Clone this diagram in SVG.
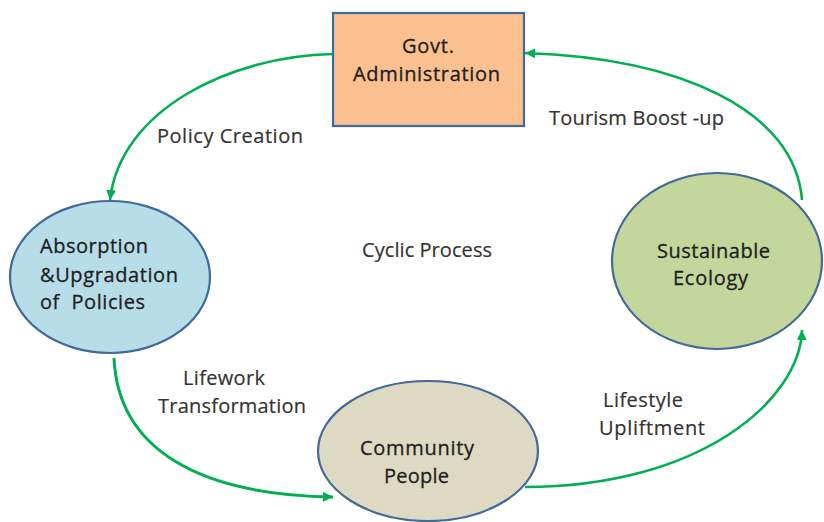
<svg xmlns="http://www.w3.org/2000/svg" width="824" height="522" viewBox="0 0 824 522">
  <defs>
    <marker id="arrowhead" markerUnits="userSpaceOnUse" markerWidth="11" markerHeight="10" refX="10" refY="5" orient="auto">
      <path d="M0,0 L10,5 L0,10 Z" fill="#00B050"/>
    </marker>
    <style>
      .node-stroke { stroke: #41699A; stroke-width: 2.2; }
      .node-text { font-family: "Open Sans", "Liberation Sans", sans-serif; font-size: 20px; fill: #1e1e1e; stroke: #1e1e1e; stroke-width: 0.3; }
      .edge-text { font-family: "Open Sans", "Liberation Sans", sans-serif; font-size: 20px; fill: #333333; stroke: #333333; stroke-width: 0.2; }
      .edge { fill: none; stroke: #00B050; stroke-width: 2.6; marker-end: url(#arrowhead); }
    </style>
  </defs>

  <rect width="824" height="522" fill="#ffffff"/>

  <!-- connectors -->
  <g id="connectors">
    <path class="edge" d="M333,54 C230,56 120,110 110,200"/>
    <path class="edge" d="M114,358 C118,450 200,495 333,497" style="stroke-width:3"/>
    <path class="edge" d="M525,487 C700,487 800,400 802,330"/>
    <path class="edge" d="M802,200 C795,110 680,58 525,53"/>
  </g>

  <!-- connector labels -->
  <g id="edge-labels">
    <text class="edge-text" x="157" y="143" textLength="146" lengthAdjust="spacing">Policy Creation</text>
    <text class="edge-text" x="549" y="125" textLength="175" lengthAdjust="spacing">Tourism Boost -up</text>
    <text class="edge-text" x="183" y="385" textLength="82" lengthAdjust="spacing">Lifework</text>
    <text class="edge-text" x="158" y="413" textLength="148" lengthAdjust="spacing">Transformation</text>
    <text class="edge-text" x="603" y="407" textLength="80" lengthAdjust="spacing">Lifestyle</text>
    <text class="edge-text" x="599" y="435" textLength="106" lengthAdjust="spacing">Upliftment</text>
  </g>

  <g id="govt-administration">
    <rect class="node-stroke" x="333" y="13" width="191" height="113" fill="#FAC090"/>
    <text class="node-text" x="402" y="53" textLength="52" lengthAdjust="spacing">Govt.</text>
    <text class="node-text" x="353" y="81" textLength="147" lengthAdjust="spacing">Administration</text>
  </g>

  <g id="absorption-upgradation">
    <ellipse class="node-stroke" cx="110" cy="277" rx="100" ry="76" fill="#B7DDE8"/>
    <text class="node-text" x="40" y="253" textLength="108" lengthAdjust="spacing">Absorption</text>
    <text class="node-text" x="40" y="282" textLength="138" lengthAdjust="spacing">&amp;Upgradation</text>
    <text class="node-text" x="40" y="309" textLength="105" lengthAdjust="spacing" xml:space="preserve">of  Policies</text>
  </g>

  <g id="sustainable-ecology">
    <ellipse class="node-stroke" cx="717" cy="261" rx="105" ry="88" fill="#C3D69B"/>
    <text class="node-text" x="657" y="258" textLength="113" lengthAdjust="spacing">Sustainable</text>
    <text class="node-text" x="673" y="285" textLength="75" lengthAdjust="spacing">Ecology</text>
  </g>

  <g id="community-people">
    <ellipse class="node-stroke" cx="428" cy="451" rx="110" ry="70" fill="#DDD9C3"/>
    <text class="node-text" x="360" y="455" textLength="114" lengthAdjust="spacing">Community</text>
    <text class="node-text" x="384" y="483" textLength="65" lengthAdjust="spacing">People</text>
  </g>

  <g id="cyclic-process">
    <text class="edge-text" x="362" y="257" textLength="130" lengthAdjust="spacing">Cyclic Process</text>
  </g>
</svg>
